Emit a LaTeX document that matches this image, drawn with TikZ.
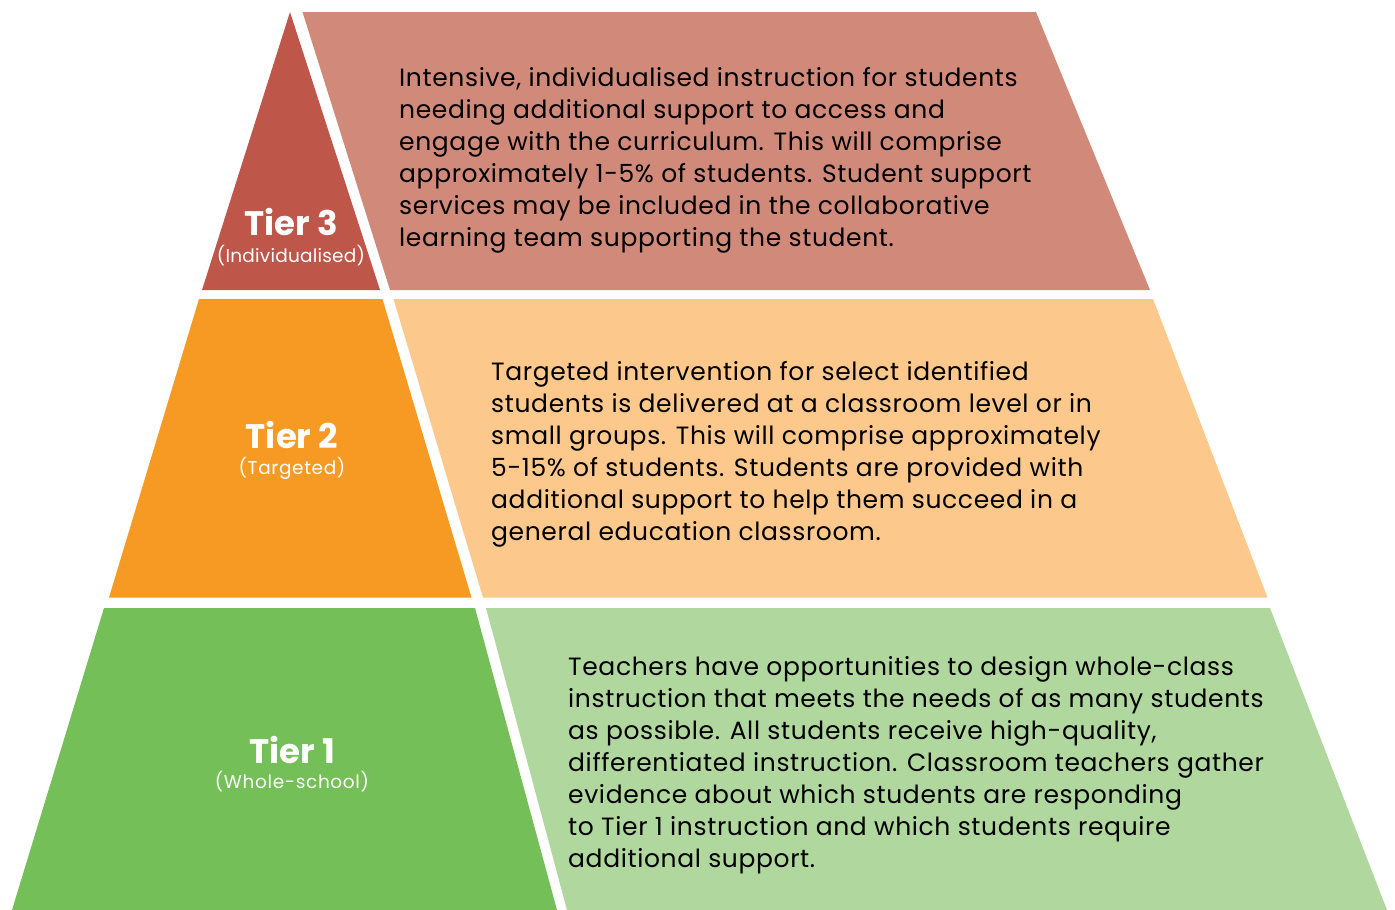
\documentclass[tikz,border=0pt]{standalone}
\usepackage{fontspec}
\setmainfont{Poppins}
\newfontfamily\bodyfont[LetterSpace=2.5]{Poppins}
\newfontfamily\subfont[LetterSpace=3.5]{Poppins}
\newfontfamily\subtightfont[LetterSpace=1.2]{Poppins}
\definecolor{tthreedark}{RGB}{190,86,73}
\definecolor{tthreelight}{RGB}{209,138,122}
\definecolor{ttwodark}{RGB}{247,154,35}
\definecolor{ttwolight}{RGB}{253,200,140}
\definecolor{tonedark}{RGB}{116,191,87}
\definecolor{tonelight}{RGB}{176,215,158}
\tikzset{
  body/.style={anchor=base west, inner sep=0pt, align=left, text=black,
    font=\bodyfont\fontsize{25}{32}\selectfont},
  tiername/.style={anchor=base, inner sep=0pt, text=white,
    font=\fontsize{34}{36}\selectfont\bfseries},
  tiersub/.style={anchor=base, inner sep=0pt, text=white,
    font=\subfont\fontsize{18.5}{22}\selectfont},
  tiersubtight/.style={tiersub, font=\subtightfont\fontsize{18.5}{22}\selectfont},
}
\begin{document}
\begin{tikzpicture}[x=1pt,y=-1pt]
\useasboundingbox (0,0) rectangle (1395,910);
% Tier 3
\fill[tthreedark] (290,12) -- (380,290) -- (202,290) -- cycle;
\fill[tthreelight] (302.5,12) -- (1036,12) -- (1150,290) -- (390,290) -- cycle;
% Tier 2
\fill[ttwodark] (199,299) -- (382.5,299) -- (471.5,597.5) -- (109,597.5) -- cycle;
\fill[ttwolight] (393.5,299) -- (1153,299) -- (1267.5,597.5) -- (483,597.5) -- cycle;
% Tier 1
\fill[tonedark] (104,608) -- (475,608) -- (557,910) -- (12,910) -- cycle;
\fill[tonelight] (486,608) -- (1270,608) -- (1387,910) -- (567,910) -- cycle;
% labels
\node[tiername] (t3) at (291,235) {Tier 3};
\node[tiersubtight] (t3s) at (291,262) {(Individualised)};
\node[tiername] (t2) at (292,448) {Tier 2};
\node[tiersub] (t2s) at (292,474) {(Targeted)};
\node[tiername] (t1) at (292,763) {Tier 1};
\node[tiersub] (t1s) at (292,788) {(Whole-school)};
% body texts (base anchor = last line's baseline)
\node[body] (b3) at (399,246.7) {Intensive, individualised instruction for students\\
needing additional support to access and\\
engage with the curriculum. This will comprise\\
approximately 1-5\% of students. Student support\\
services may be included in the collaborative\\
learning team supporting the student.};
\node[body] (b2) at (491,540.5) {Targeted intervention for select identified\\
students is delivered at a classroom level or in\\
small groups. This will comprise approximately\\
5-15\% of students. Students are provided with\\
additional support to help them succeed in a\\
general education classroom.};
\node[body] (b1) at (568,867) {Teachers have opportunities to design whole-class\\
instruction that meets the needs of as many students\\
as possible. All students receive high-quality,\\
differentiated instruction. Classroom teachers gather\\
evidence about which students are responding\\
to Tier 1 instruction and which students require\\
additional support.};
\end{tikzpicture}
\end{document}
